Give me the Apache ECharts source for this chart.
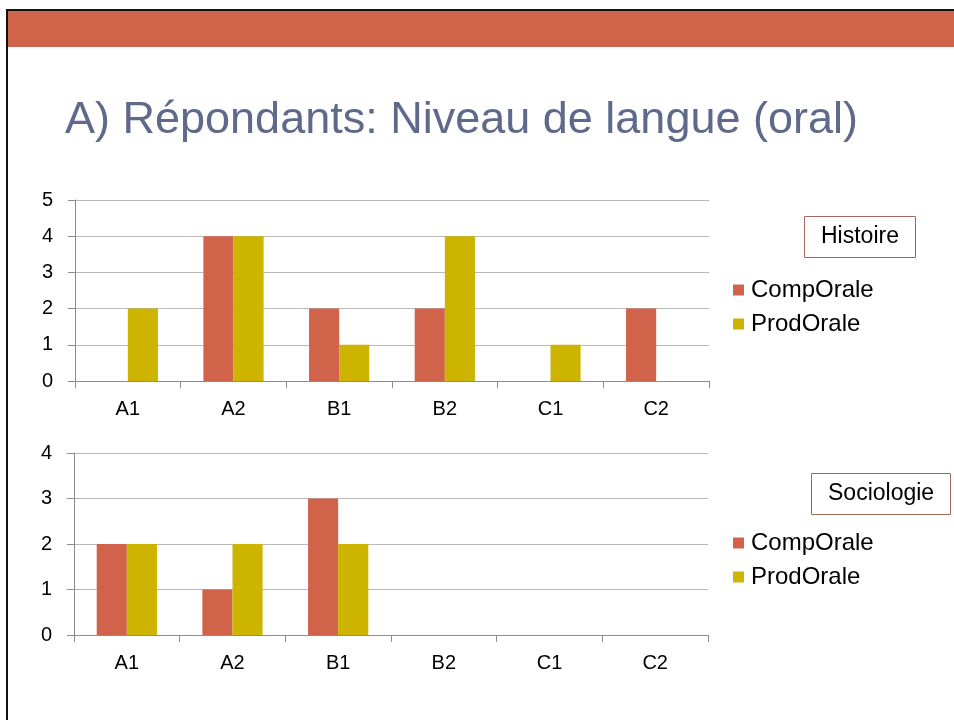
<!DOCTYPE html>
<html>
<head>
<meta charset="utf-8">
<script src="https://cdn.jsdelivr.net/npm/echarts@6/dist/echarts.min.js"></script>
<style>
html,body{margin:0;padding:0;background:#fff;}
#c{width:954px;height:720px;}
</style>
</head>
<body>
<div id="c"></div>
<script>
var categories = ['A1', 'A2', 'B1', 'B2', 'C1', 'C2'];
var seriesNames = ['CompOrale', 'ProdOrale'];
var histoireComp = [0, 4, 2, 2, 0, 2];
var histoireProd = [2, 4, 1, 4, 1, 0];
var sociologieComp = [2, 1, 3, 0, 0, 0];
var sociologieProd = [2, 2, 2, 0, 0, 0];
var histoireMax = 5;
var sociologieMax = 4;
var titleText = 'A) Répondants: Niveau de langue (oral)';
var panelNames = ['Histoire', 'Sociologie'];

var FONT = '"Liberation Sans", Arial, Helvetica, sans-serif';
var COL_COMP = '#d1634a';
var COL_PROD = '#ccb400';
var GRID_COL = '#b8b8b8';
var AXIS_COL = '#8c8c8c';

var chart = echarts.init(document.getElementById('c'), null, {renderer: 'canvas'});

function xAxis(gi) {
  return {
    type: 'category', gridIndex: gi, data: categories,
    axisLine: {lineStyle: {color: AXIS_COL, width: 1}},
    axisTick: {show: true, length: 7, lineStyle: {color: AXIS_COL}},
    axisLabel: {color: '#000', fontFamily: FONT, fontSize: 20, margin: 18},
    splitLine: {show: false}
  };
}
function yAxis(gi, max) {
  return {
    type: 'value', gridIndex: gi, min: 0, max: max, interval: 1,
    axisLine: {show: true, lineStyle: {color: AXIS_COL, width: 1}},
    axisTick: {show: true, length: 7, lineStyle: {color: AXIS_COL}},
    axisLabel: {color: '#000', fontFamily: FONT, fontSize: 20, margin: 22},
    splitLine: {show: true, lineStyle: {color: GRID_COL, width: 1}}
  };
}
function bar(name, data, gi, color) {
  return {
    type: 'bar', name: name, xAxisIndex: gi, yAxisIndex: gi, data: data,
    barGap: '0%', barCategoryGap: '43%',
    itemStyle: {color: color},
    emphasis: {disabled: true},
    animation: false
  };
}
function legend(top) {
  return {
    orient: 'vertical', left: 733, top: top, padding: 0,
    data: seriesNames,
    icon: 'rect', itemWidth: 11, itemHeight: 11, itemGap: 10,
    textStyle: {color: '#000', fontFamily: FONT, fontSize: 24, lineHeight: 23, padding: [0, 0, 0, 2]},
    selectedMode: false
  };
}
function panelTitle(text, left, top) {
  return {
    text: text, left: left, top: top,
    padding: [8, 17], borderColor: '#a3675c', borderWidth: 1,
    textStyle: {color: '#000', fontFamily: FONT, fontSize: 23, fontWeight: 'normal', lineHeight: 26}
  };
}

chart.setOption({
  animation: false,
  backgroundColor: '#fff',
  color: [COL_COMP, COL_PROD],
  graphic: [
    {type: 'rect', shape: {x: 8, y: 11, width: 946, height: 36}, style: {fill: '#d0644a'}, silent: true},
    {type: 'rect', shape: {x: 6, y: 9, width: 948, height: 2}, style: {fill: '#111'}, silent: true},
    {type: 'rect', shape: {x: 6, y: 9, width: 2, height: 711}, style: {fill: '#111'}, silent: true},
    {type: 'text', left: 65, top: 98, style: {text: titleText, fill: '#5f6a8b', font: 'normal 45px ' + FONT}, silent: true}
  ],
  title: [panelTitle(panelNames[0], 804, 216), panelTitle(panelNames[1], 811, 473)],
  legend: [legend(278), legend(531)],
  grid: [
    {left: 75, top: 200, width: 634, height: 181, containLabel: false},
    {left: 74, top: 453, width: 634, height: 182, containLabel: false}
  ],
  xAxis: [xAxis(0), xAxis(1)],
  yAxis: [yAxis(0, histoireMax), yAxis(1, sociologieMax)],
  series: [
    bar(seriesNames[0], histoireComp, 0, COL_COMP),
    bar(seriesNames[1], histoireProd, 0, COL_PROD),
    bar(seriesNames[0], sociologieComp, 1, COL_COMP),
    bar(seriesNames[1], sociologieProd, 1, COL_PROD)
  ]
});
</script>
</body>
</html>
